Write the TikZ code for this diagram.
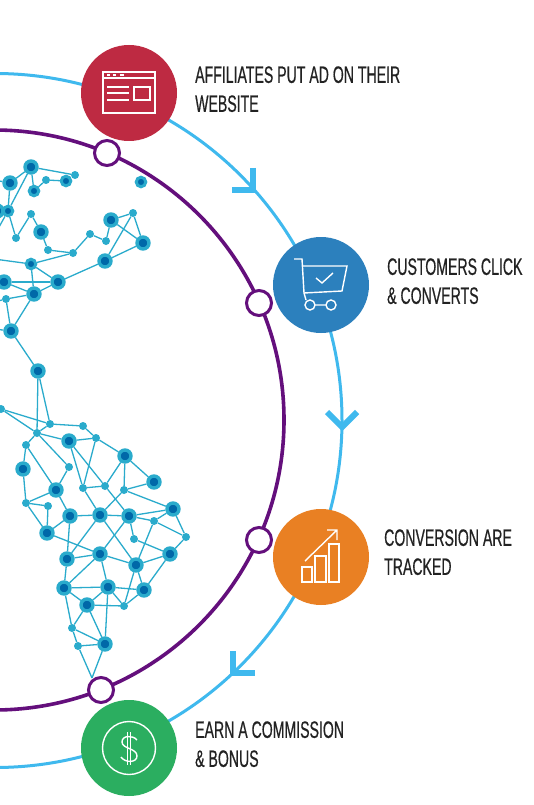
\documentclass[tikz,border=0pt]{standalone}
\usepackage{fontspec}
\setmainfont[FakeStretch=0.595,FakeBold=0.5]{Liberation Sans}
\definecolor{ringPurple}{HTML}{640F7C}
\definecolor{ringBlue}{HTML}{3FB9EE}
\definecolor{netCyan}{HTML}{2AABCC}
\definecolor{netDark}{HTML}{0068A8}
\definecolor{stepRed}{HTML}{BE2A42}
\definecolor{stepBlue}{HTML}{2C80BD}
\definecolor{stepOrange}{HTML}{E98023}
\definecolor{stepGreen}{HTML}{2BAE60}
\definecolor{labelInk}{HTML}{222222}
\tikzset{
  bigdot/.style={circle, fill=netDark, draw=netCyan, line width=3.4pt, inner sep=0pt, minimum size=12pt},
  middot/.style={circle, fill=netDark, draw=netCyan, line width=3pt, inner sep=0pt, minimum size=9.5pt},
  smalldot/.style={circle, fill=netCyan, inner sep=0pt, minimum size=8pt},
  netline/.style={netCyan, line width=1.3pt},
  hollowdot/.style={circle, fill=white, draw=ringPurple, line width=3pt, inner sep=0pt, minimum size=25pt},
  stepdisc/.style={circle, inner sep=0pt, minimum size=96pt},
  steptext/.style={anchor=west, inner sep=0pt, align=left, text=labelInk, font=\fontsize{23.7}{29}\selectfont},
  ringtip/.style={ringBlue, line width=6pt, miter limit=10},
  iconline/.style={white, line width=1.4pt}
}

\begin{document}
\begin{tikzpicture}[x=1pt, y=-1pt]
  \useasboundingbox (0,0) rectangle (534,805);
  \clip (0,0) rectangle (534,805);
  \fill[white] (0,0) rectangle (534,805);
  % the two rings
  \draw[ringBlue, line width=3pt] (-5,420.5) circle (347);
  \draw[ringPurple, line width=3.6pt] (-6,420) circle (290);
  % arrow tips on the outer ring
  \draw[ringtip] (253,168) -- (253,190) -- (232,190);
  \draw[ringtip] (327,412) -- (342,427) -- (357,412);
  \draw[ringtip] (233,651) -- (233,673) -- (255,673);
  % network: north
  \foreach \n/\x/\y in {a/31/167, b/10/183, k/41/232, p/111/220, r/143/243, s/105/261, u/58/282, v/4/282, w/34/294, y/11/331, z/38/371, bb/-3/211}
    \node[bigdot] (\n) at (\x,\y) {};
  \foreach \n/\x/\y in {c/34/191, e/66/181, g/141/182, h/8/211, t/31/264}
    \node[middot] (\n) at (\x,\y) {};
  \foreach \n/\x/\y in {d/46/180, f/75/175, i/31/214, j/16/238, l/48/250, m/73/253, n/90/234, o/106/241, q/133/213, x/6/299}
    \node[smalldot] (\n) at (\x,\y) {};
  % network: south
  \foreach \n/\x/\y in {E/69/441, H/125/456, I/23/469, K/154/482, L/56/490, R/173/509, S/70/516, T/100/515, U/129/516, W/47/533, Z/67/559, AA/100/554, AB/170/554, AC/136/565, AD/64/588, AE/108/587, AF/144/590, AG/87/605, AK/105/644}
    \node[bigdot] (\n) at (\x,\y) {};
  \foreach \n/\x/\y in {A/1/409, B/50/424, C/83/426, D/37/433, F/96/438, G/26/445, J/69/467, M/83/488, N/105/486, O/124/490, P/26/503, Q/48/506, V/154/521, X/186/537, Y/134/539, AH/124/606, AI/72/628, AJ/78/646}
    \node[smalldot] (\n) at (\x,\y) {};
  % loose ends on the left edge and under the purple dot
  \coordinate (lefta) at (-6,259);
  \coordinate (leftb) at (-6,236);
  \coordinate (leftc) at (-6,302);
  \coordinate (leftd) at (-6,329);
  \coordinate (lefte) at (-6,180);
  \coordinate (foot) at (92,678);
  \foreach \a/\b in {a/f, a/b, a/c, a/h, b/h, b/lefte, d/c, d/e, h/j, h/leftb, bb/h, j/i, i/k, k/l, l/m, m/n, n/o, o/p, p/q, p/r, q/r, q/s, s/r, s/u, m/t, t/u, t/w, t/lefta, u/v, u/w, v/w, w/x, x/y, w/y, x/leftc, y/leftd, y/z,
    A/B, A/D, z/D, z/B, B/C, B/D, C/F, D/E, D/G, D/J, E/F, E/M, E/N, F/M, F/H, G/I, G/L, I/P, J/L, L/P, L/S, M/N, M/T, N/H, N/U, H/O, H/K, O/K, O/T, O/R, P/Q, P/W, Q/W, W/S, W/AA, S/T, S/Z, T/U, T/Z, T/AC, U/R, U/V, U/Y, U/AA, R/V, R/X, V/X, V/AC, X/AB, Y/AB, AB/AC, AB/AF, AC/AA, AC/AH, AC/AF, AA/Z, AA/AD, AA/AE, Z/AD, AD/AE, AD/AG, AD/AI, AE/AF, AE/AG, AE/AH, AE/AK, AF/AH, AG/AH, AG/AI, AG/AK, AI/AK, AI/AJ, AJ/AK, AJ/foot, AK/foot}
    \draw[netline] (\a) -- (\b);
  % white dots on the purple ring
  \foreach \n/\x/\y in {dota/107/153, dotb/259/303, dotc/259/540, dotd/101/690}
    \node[hollowdot] (\n) at (\x,\y) {};
  % step discs and their texts
  \node[stepdisc, fill=stepRed] (adsite) at (129,93) {};
  \node[stepdisc, fill=stepBlue] (click) at (321,285) {};
  \node[stepdisc, fill=stepOrange] (tracked) at (321,557) {};
  \node[stepdisc, fill=stepGreen] (bonus) at (129,748) {};
  \node[steptext] (adsitetext) at (195,89.2) {AFFILIATES PUT AD ON THEIR\\WEBSITE};
  \node[steptext] (clicktext) at (387,281.2) {CUSTOMERS CLICK\\\& CONVERTS};
  \node[steptext] (trackedtext) at (384,552.2) {CONVERSION ARE\\TRACKED};
  \node[steptext] (bonustext) at (195,744.2) {EARN A COMMISSION\\\& BONUS};
  % icon: web page
  \draw[iconline] (103,72) rectangle (155,113);
  \draw[iconline] (103,78) -- (155,78);
  \draw[iconline] (107,75) -- (110,75) (113,75) -- (116,75) (120,75) -- (124,75);
  \draw[iconline] (107,87) -- (129,87) (107,93) -- (129,93) (107,100) -- (129,100);
  \draw[iconline] (134,87) rectangle (150,100);
  % icon: cart
  \draw[iconline] (294,259) -- (302,259) -- (304,293) -- (306,300);
  \draw[iconline] (302,266) -- (347,266) -- (342,291) -- (304,293);
  \draw[iconline] (316,278) -- (322,283) -- (333,273);
  \draw[iconline] (310,305) circle (5) (331,305) circle (5) (315,305) -- (326,305);
  % icon: bars and rising arrow
  \draw[iconline] (302,567) rectangle (312,582) (315,556) rectangle (326,582) (329,544) rectangle (339,582);
  \draw[iconline] (305,561) -- (337,530) (327,530) -- (337,530) -- (337,540);
  % icon: coin
  \draw[iconline] (129,748) circle (26.5);
  \draw[iconline] (127.3,732) -- (127.3,765) (130.7,732) -- (130.7,765);
  \draw[iconline] (137,740) .. controls (133,735) and (122,735) .. (122,742) .. controls (122,749) and (137,748) .. (137,756) .. controls (137,763) and (125,763) .. (121,757);
\end{tikzpicture}
\end{document}
